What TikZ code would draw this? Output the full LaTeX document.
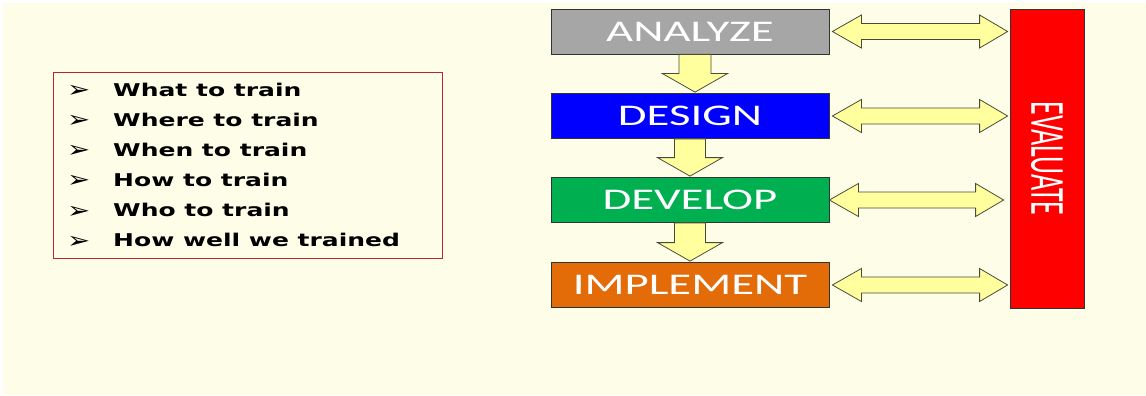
\documentclass[tikz,border=0pt]{standalone}
\usepackage{fontspec}
\setmainfont{Carlito}
\newfontfamily\boxfont{Carlito}[FakeStretch=1.56]
\newfontfamily\listfont{DejaVu Sans}[FakeStretch=1.42]
\newfontfamily\bulfont{DejaVu Sans}[FakeStretch=1.2]
\usetikzlibrary{calc}
\definecolor{bg}{HTML}{FEFEE8}
\definecolor{anagray}{HTML}{A6A6A6}
\definecolor{desblue}{HTML}{0000FF}
\definecolor{devgreen}{HTML}{00B050}
\definecolor{imporange}{HTML}{E36C09}
\definecolor{evared}{HTML}{FF0000}
\definecolor{arrowfill}{HTML}{FFFF9E}
\definecolor{arrowline}{HTML}{4A4A3A}
\definecolor{framered}{HTML}{B8262C}
\newcommand\fatdown[4]{% from node #1 to node #2, x offset #3, shaft half width #4
  \draw[blockarrow] let \p1=(#1.south), \p2=(#2.north) in
    (\x1+#3-#4,\y1) -- (\x1+#3+#4,\y1) -- (\x1+#3+#4,\y2+19.5pt)
    -- (\x1+#3+32.5pt,\y2+19.5pt) -- (\x1+#3,\y2+1pt) -- (\x1+#3-32.5pt,\y2+19.5pt)
    -- (\x1+#3-#4,\y2+19.5pt) -- cycle;}
\newcommand\fatboth[3]{% from node #1 to evaluate box, left gap #2, right gap #3
  \draw[blockarrow] let \p1=(#1.east), \p2=(eva.west) in
    (\x1+#2,\y1) -- (\x1+#2+29pt,\y1+16.5pt) -- (\x1+#2+29pt,\y1+8pt)
    -- (\x2-#3-28pt,\y1+8pt) -- (\x2-#3-28pt,\y1+16.5pt) -- (\x2-#3,\y1)
    -- (\x2-#3-28pt,\y1-16.5pt) -- (\x2-#3-28pt,\y1-8pt) -- (\x1+#2+29pt,\y1-8pt)
    -- (\x1+#2+29pt,\y1-16.5pt) -- cycle;}
\begin{document}
\begin{tikzpicture}[x=1pt,y=-1pt,
  stage/.style={draw=black!80, line width=0.8pt, minimum width=278pt,
    minimum height=45pt, inner sep=0pt, text=white,
    font=\boxfont\fontsize{30}{30}\selectfont},
  blockarrow/.style={draw=arrowline, fill=arrowfill, line width=0.8pt, line join=miter},
  item/.style={anchor=base west, inner sep=0pt,
    font=\listfont\bfseries\fontsize{17.6}{17.6}\selectfont},
  bul/.style={anchor=base west, inner sep=0pt,
    font=\bulfont\fontsize{23}{23}\selectfont},
]
\useasboundingbox (0,0) rectangle (1146,396);
\fill[bg] (3,3) rectangle (1146,395);

% list frame
\node[draw=framered, line width=1pt, minimum width=389pt, minimum height=186pt,
  inner sep=0pt] (frame) at (248,165.5) {};
\foreach \t [count=\i] in {What to train,Where to train,When to train,How to train,Who to train,How well we trained}{
  \node[bul] (b\i) at (67,{97.5+30.15*(\i-1)}) {➢};
  \node[item] (t\i) at (113,{96+30.15*(\i-1)}) {\t};
}

% stages
\node[stage, fill=anagray] (ana) at (690,31.5) {ANALYZE};
\node[stage, fill=desblue] (des) at (690,116) {DESIGN};
\node[stage, fill=devgreen] (dev) at (690,200) {DEVELOP};
\node[stage, fill=imporange] (imp) at (690,285) {IMPLEMENT};

\node[draw=black!80, fill=evared, line width=0.8pt, minimum width=74pt,
  minimum height=299pt, inner sep=0pt, text=white] (eva) at (1047,158.5)
  {\scalebox{1.75}[1]{\rotatebox{-90}{\fontsize{28}{28}\selectfont EVALUATE}}};

% down arrows
\fatdown{ana}{des}{5pt}{16pt}
\fatdown{des}{dev}{0pt}{15.5pt}
\fatdown{dev}{imp}{0pt}{15.5pt}

% double arrows
\fatboth{ana}{3pt}{2pt}
\fatboth{des}{3pt}{2pt}
\fatboth{dev}{0pt}{6pt}
\fatboth{imp}{3pt}{2pt}
\end{tikzpicture}
\end{document}
